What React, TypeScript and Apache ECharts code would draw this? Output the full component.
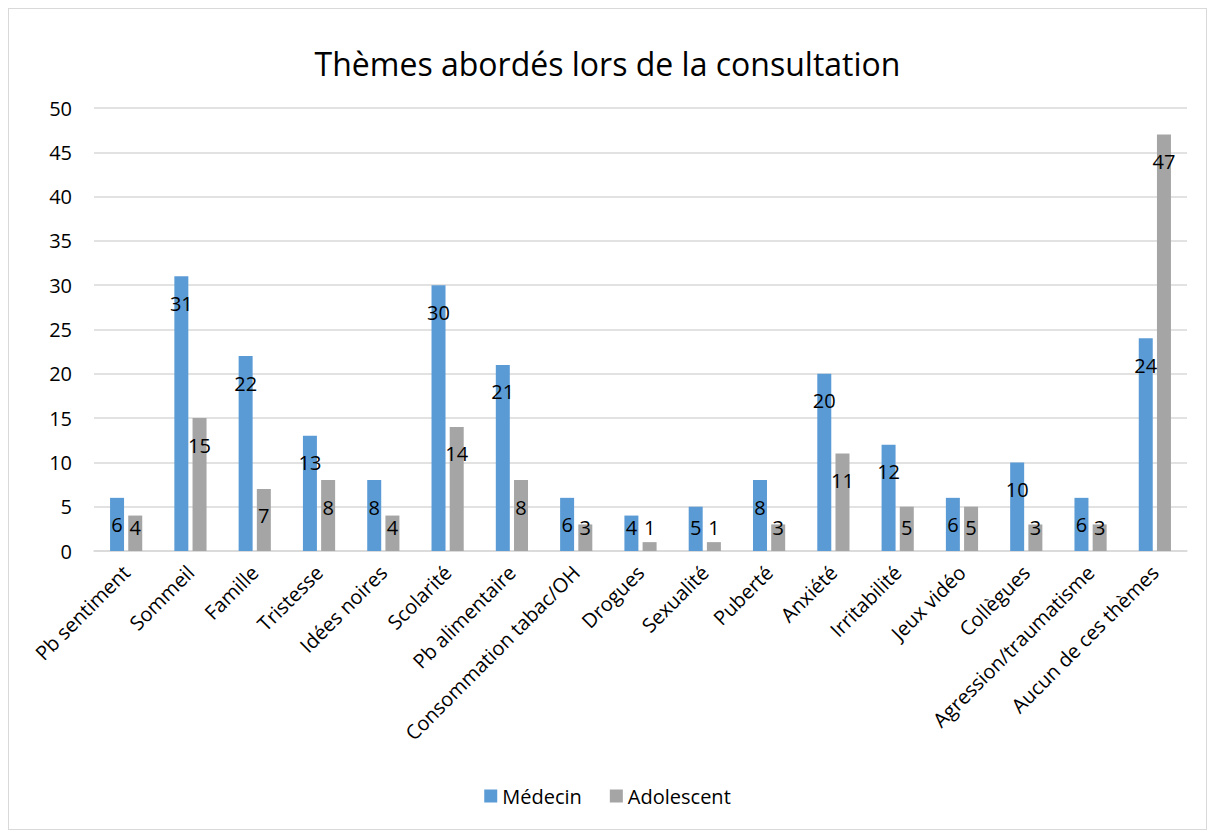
import React, { useEffect, useRef } from "react";
import * as echarts from "echarts";

const categories = [
  "Pb sentiment", "Sommeil", "Famille", "Tristesse", "Idées noires", "Scolarité",
  "Pb alimentaire", "Consommation tabac/OH", "Drogues", "Sexualité", "Puberté",
  "Anxiété", "Irritabilité", "Jeux vidéo", "Collègues", "Agression/traumatisme",
  "Aucun de ces thèmes",
];
const medecin = [6, 31, 22, 13, 8, 30, 21, 6, 4, 5, 8, 20, 12, 6, 10, 6, 24];
const adolescent = [4, 15, 7, 8, 4, 14, 8, 3, 1, 1, 3, 11, 5, 5, 3, 3, 47];

const FONT = "'Open Sans', 'Noto Sans', sans-serif";

const withLabels = (values: number[]) =>
  values.map((v) =>
    v < 6
      ? { value: v, label: { position: "insideBottom", distance: 14 } }
      : { value: v }
  );

export default function App() {
  const ref = useRef<HTMLDivElement>(null);
  useEffect(() => {
    if (!ref.current) return;
    const chart = echarts.init(ref.current, undefined, { renderer: "svg" });
    const label = {
      show: true,
      position: "insideTop" as const,
      distance: 17,
      color: "#000",
      fontSize: 20,
      fontFamily: FONT,
    };
    chart.setOption({
      animation: false,
      textStyle: { fontFamily: FONT },
      title: {
        text: "Thèmes abordés lors de la consultation",
        left: "center",
        top: 33,
        textStyle: { fontSize: 32, fontWeight: "normal", color: "#000", fontFamily: FONT },
      },
      legend: {
        bottom: 18,
        left: "center",
        itemWidth: 13,
        itemHeight: 13,
        itemGap: 28,
        icon: "rect",
        textStyle: { fontSize: 20, color: "#000", fontFamily: FONT },
        data: ["Médecin", "Adolescent"],
      },
      grid: { left: 85, right: 19, top: 99, bottom: 278, containLabel: false },
      xAxis: {
        type: "category",
        data: categories,
        axisLine: { lineStyle: { color: "#d9d9d9", width: 1.5 } },
        axisTick: { show: false },
        axisLabel: {
          rotate: 45,
          interval: 0,
          color: "#000",
          fontSize: 20,
          fontFamily: FONT,
          margin: 18,
        },
      },
      yAxis: {
        type: "value",
        min: 0,
        max: 50,
        interval: 5,
        axisLine: { show: false },
        axisTick: { show: false },
        axisLabel: { color: "#000", fontSize: 20, fontFamily: FONT, margin: 22 },
        splitLine: { lineStyle: { color: "#d9d9d9", width: 1.5 } },
      },
      series: [
        {
          name: "Médecin",
          type: "bar",
          data: withLabels(medecin),
          barWidth: 14,
          barGap: "30%",
          itemStyle: { color: "#5B9BD5" },
          label,
        },
        {
          name: "Adolescent",
          type: "bar",
          data: withLabels(adolescent),
          barWidth: 14,
          itemStyle: { color: "#A5A5A5" },
          label,
        },
      ],
    });
    return () => chart.dispose();
  }, []);
  return (
    <div
      ref={ref}
      style={{
        width: 1199,
        height: 822,
        border: "1px solid #d9d9d9",
        boxSizing: "border-box",
        background: "#fff",
      }}
    />
  );
}
